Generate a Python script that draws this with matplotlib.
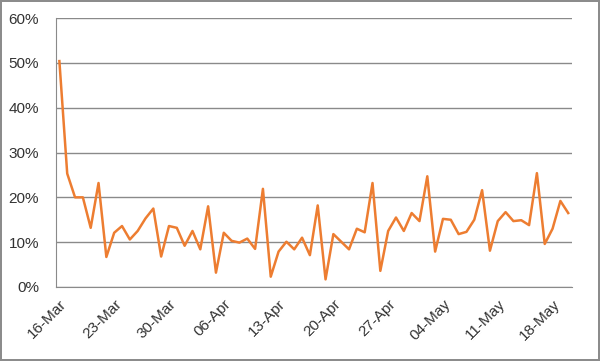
import matplotlib
matplotlib.use("Agg")
import matplotlib.pyplot as plt
from matplotlib.ticker import FuncFormatter, MultipleLocator
import matplotlib.dates as mdates
import pandas as pd

# daily share, 16-Mar to 20-May
start_date = "2020-03-16"
values = [50.4, 25.3, 20.0, 20.0, 13.2, 23.2, 6.7, 12.1, 13.6, 10.6,
          12.5, 15.3, 17.5, 6.8, 13.6, 13.2, 9.2, 12.5, 8.4, 18.0,
          3.2, 12.1, 10.3, 9.9, 10.8, 8.5, 21.9, 2.3, 7.9, 10.1,
          8.4, 11.0, 7.1, 18.2, 1.7, 11.8, 10.1, 8.4, 13.0, 12.2,
          23.2, 3.6, 12.5, 15.5, 12.5, 16.5, 14.7, 24.7, 7.9, 15.2,
          15.0, 11.8, 12.3, 15.0, 21.6, 8.1, 14.7, 16.7, 14.7, 14.9,
          13.8, 25.4, 9.6, 13.0, 19.2, 16.5]
dates = pd.date_range(start_date, periods=len(values), freq="D")

plt.rcParams['font.family'] = ['Liberation Sans', 'DejaVu Sans']

fig = plt.figure(figsize=(6, 3.61), dpi=100)
fig.patch.set_edgecolor('#8c8c8c')
fig.patch.set_linewidth(1.5)
ax = fig.add_axes([0.093, 0.205, 0.86, 0.745])

ax.plot(dates, values, color='#ED7D31', lw=1.8, zorder=3)

ax.set_ylim(0, 60)
ax.yaxis.set_major_locator(MultipleLocator(10))
ax.yaxis.set_major_formatter(FuncFormatter(lambda v, p: '%d%%' % v))
ax.grid(axis='y', color='#8a8a8a', lw=1)
ax.set_axisbelow(True)

ax.set_xlim(dates[0] - pd.Timedelta(hours=11), dates[-1] + pd.Timedelta(hours=11))
ax.set_xticks(dates[::7])
ax.xaxis.set_major_formatter(mdates.DateFormatter('%d-%b'))

for s in ['top', 'right']:
    ax.spines[s].set_visible(False)
ax.spines['left'].set_color('#8a8a8a')
ax.spines['bottom'].set_color('#8a8a8a')
ax.tick_params(length=0, labelsize=11, colors='#333333')
ax.tick_params(axis='y', pad=12)
plt.setp(ax.get_xticklabels(), rotation=45, ha='right', rotation_mode='anchor')
ax.tick_params(axis='x', pad=7)

plt.savefig('out.png', dpi=100)
